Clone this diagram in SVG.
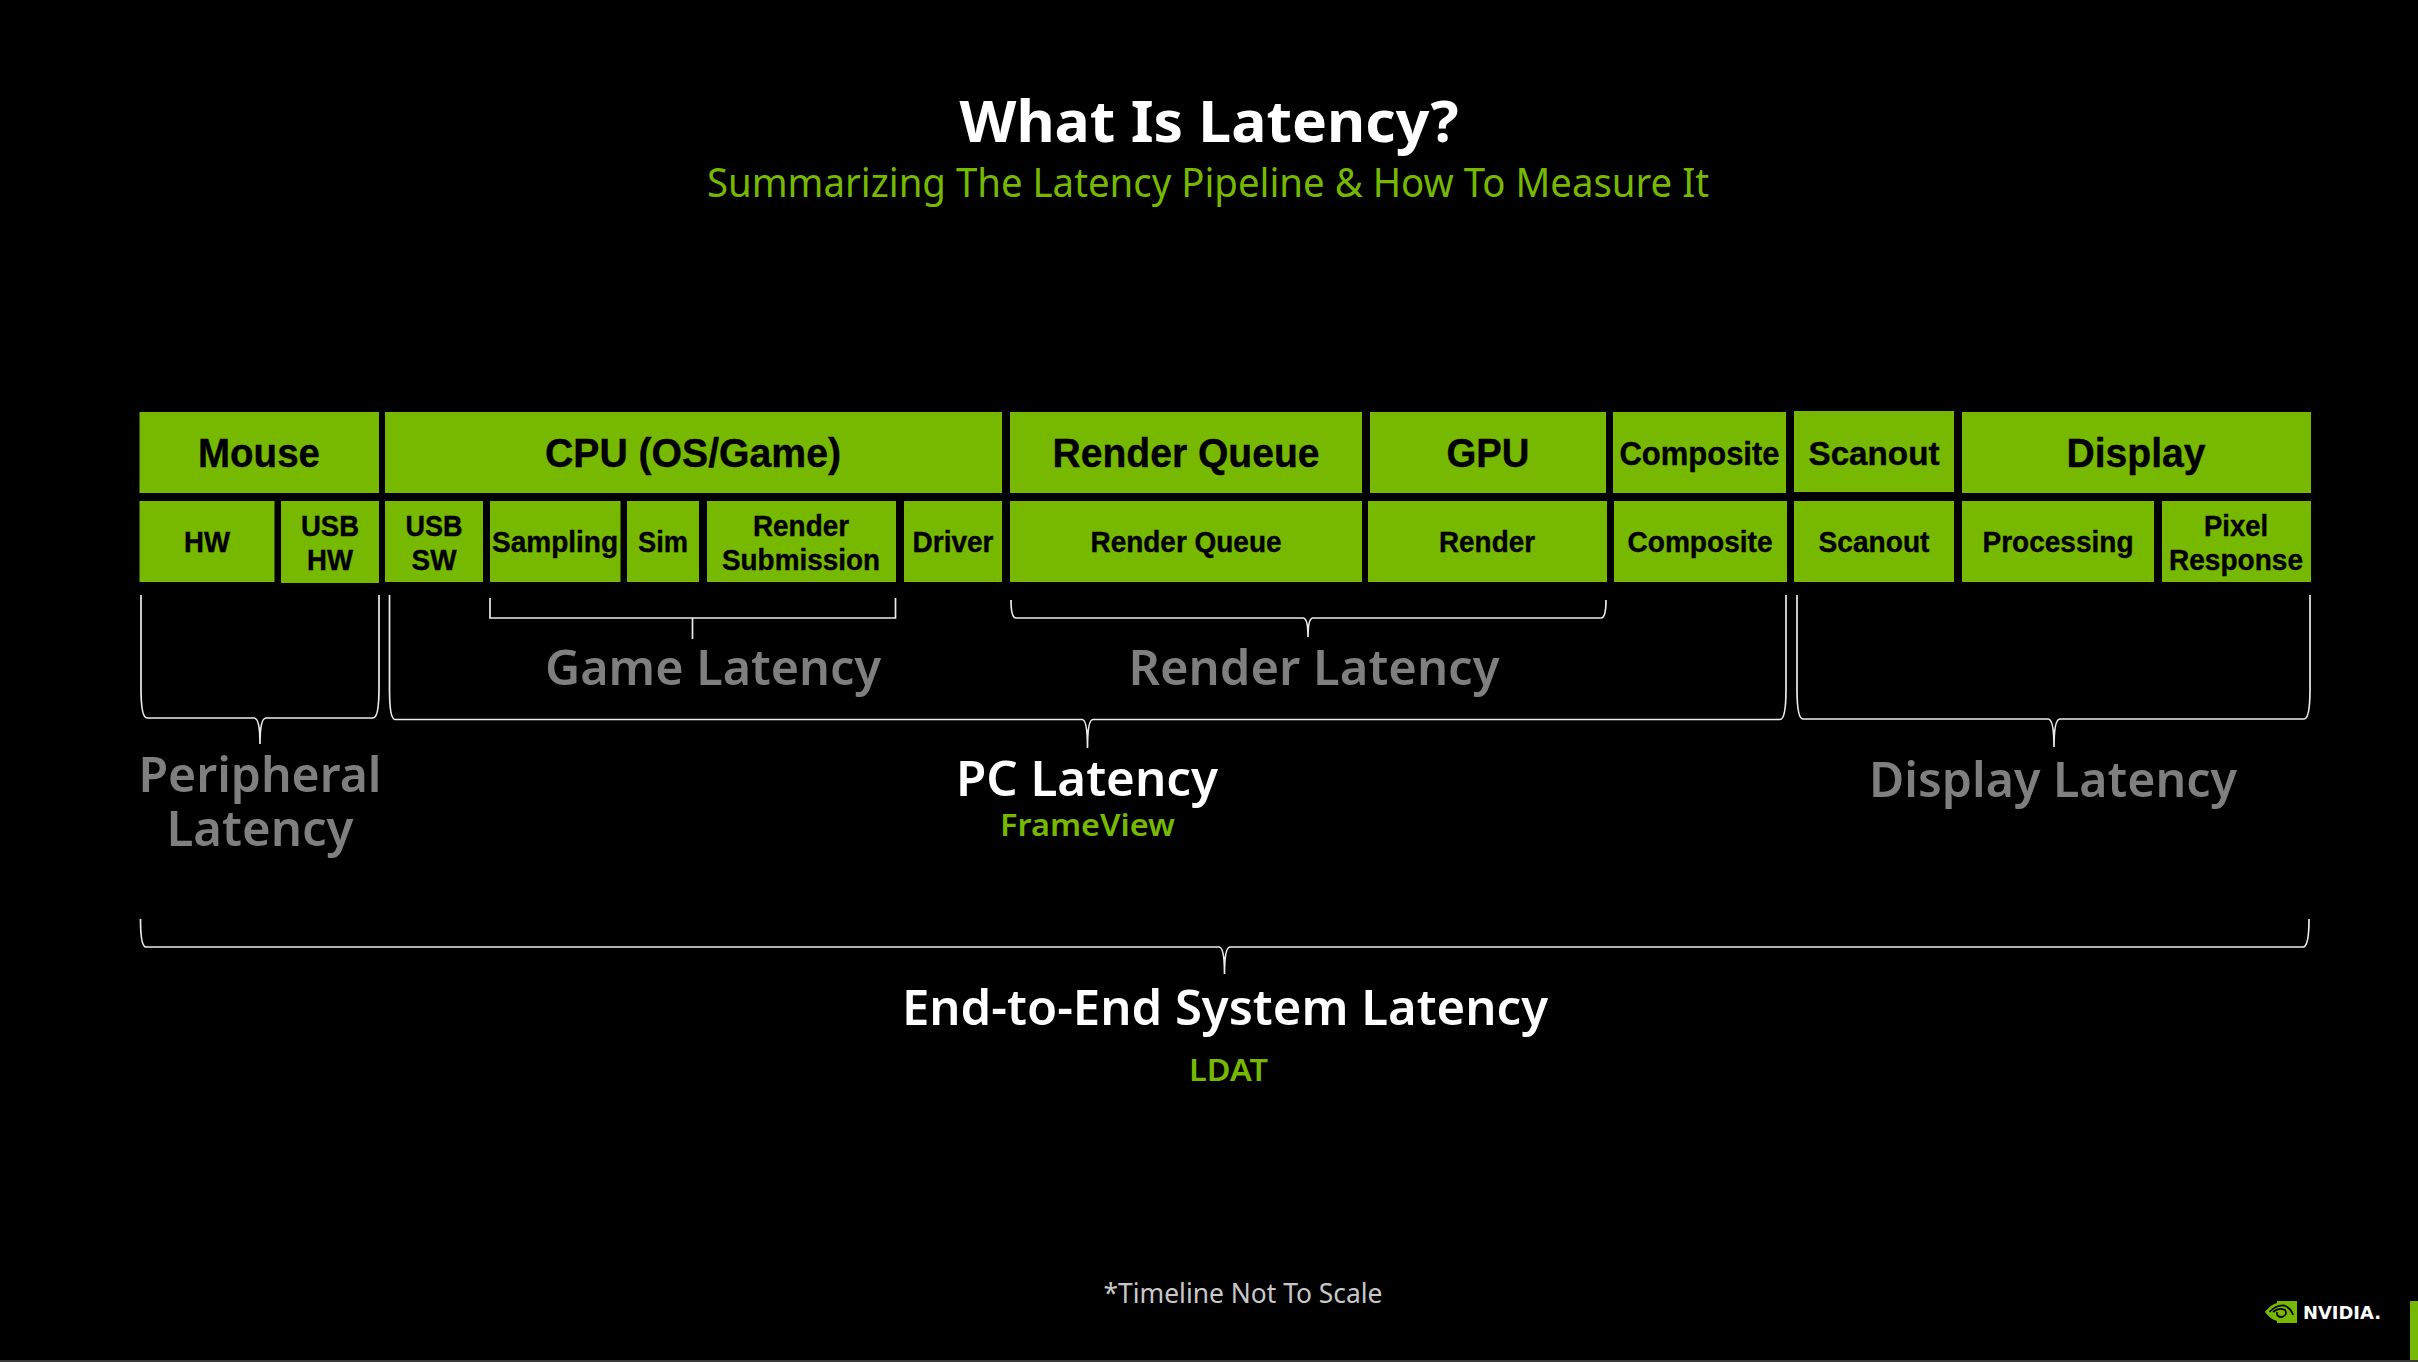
<svg xmlns="http://www.w3.org/2000/svg" width="2418" height="1362" viewBox="0 0 2418 1362">
<style>
.b{fill:#76b900}
.t{font-family:"Liberation Sans",Arial,sans-serif;font-weight:700;fill:#000;text-anchor:middle;stroke:#000;stroke-width:.4}
.l{font-size:40px}.m{font-size:33px}.s{font-size:29px}
.h{font-family:"Noto Sans","DejaVu Sans",sans-serif;text-anchor:middle;font-weight:600}
.g{fill:#7f7f7f;font-size:49px}.w{fill:#fff;font-size:49px}.v{fill:#76b900;font-size:31px}
.c{fill:none;stroke:#ececec;stroke-width:1.7}
</style>
<rect width="2418" height="1362" fill="#000"/>
<rect y="1360" width="2418" height="2" fill="#3a3a3a"/>
<rect x="2410" y="1301" width="8" height="59" fill="#76b900"/>
<g id="title">
<text class="h" x="1209" y="142" font-size="58" style="font-weight:700" fill="#fff" textLength="499" lengthAdjust="spacingAndGlyphs">What Is Latency?</text>
<text class="h" x="1208" y="197" font-size="40" style="font-weight:400" fill="#76b900" textLength="1002" lengthAdjust="spacingAndGlyphs">Summarizing The Latency Pipeline &amp; How To Measure It</text>
</g>
<g id="n-mouse"><rect class="b" x="139.500" y="412" width="239.500" height="81"/><text class="t l" x="259" y="467" textLength="122" lengthAdjust="spacingAndGlyphs">Mouse</text></g>
<g id="n-cpu"><rect class="b" x="385" y="412" width="617" height="81"/><text class="t l" x="693" y="467" textLength="296" lengthAdjust="spacingAndGlyphs">CPU (OS/Game)</text></g>
<g id="n-rq"><rect class="b" x="1010" y="412" width="352" height="81"/><text class="t l" x="1186" y="467" textLength="267" lengthAdjust="spacingAndGlyphs">Render Queue</text></g>
<g id="n-gpu"><rect class="b" x="1370" y="412" width="236" height="81"/><text class="t l" x="1488" y="467" textLength="83" lengthAdjust="spacingAndGlyphs">GPU</text></g>
<g id="n-comp"><rect class="b" x="1613" y="412" width="173" height="81"/><text class="t m" x="1699.500" y="465" textLength="160" lengthAdjust="spacingAndGlyphs">Composite</text></g>
<g id="n-scan"><rect class="b" x="1794" y="411" width="160" height="81"/><text class="t m" x="1874" y="465" textLength="131" lengthAdjust="spacingAndGlyphs">Scanout</text></g>
<g id="n-disp"><rect class="b" x="1962" y="412" width="349" height="81"/><text class="t l" x="2136" y="467" textLength="139" lengthAdjust="spacingAndGlyphs">Display</text></g>
<g id="s-hw"><rect class="b" x="139.500" y="501" width="135" height="81"/><text class="t s" x="207" y="552" textLength="46" lengthAdjust="spacingAndGlyphs">HW</text></g>
<g id="s-usbhw"><rect class="b" x="281" y="501" width="98" height="82"/><text class="t s" x="330" y="536" textLength="58" lengthAdjust="spacingAndGlyphs">USB</text><text class="t s" x="330" y="570" textLength="46" lengthAdjust="spacingAndGlyphs">HW</text></g>
<g id="s-usbsw"><rect class="b" x="385" y="501" width="98" height="81"/><text class="t s" x="434" y="536" textLength="57" lengthAdjust="spacingAndGlyphs">USB</text><text class="t s" x="434" y="570" textLength="45" lengthAdjust="spacingAndGlyphs">SW</text></g>
<g id="s-samp"><rect class="b" x="490" y="501" width="130.500" height="81"/><text class="t s" x="555" y="552" textLength="126" lengthAdjust="spacingAndGlyphs">Sampling</text></g>
<g id="s-sim"><rect class="b" x="627" y="501" width="72" height="81"/><text class="t s" x="663" y="552" textLength="50" lengthAdjust="spacingAndGlyphs">Sim</text></g>
<g id="s-rs"><rect class="b" x="707" y="501" width="189" height="81"/><text class="t s" x="801" y="536" textLength="96" lengthAdjust="spacingAndGlyphs">Render</text><text class="t s" x="801" y="570" textLength="158" lengthAdjust="spacingAndGlyphs">Submission</text></g>
<g id="s-drv"><rect class="b" x="904" y="501" width="98" height="81"/><text class="t s" x="953" y="552" textLength="81" lengthAdjust="spacingAndGlyphs">Driver</text></g>
<g id="s-rq"><rect class="b" x="1010" y="501" width="352" height="81"/><text class="t s" x="1186" y="552" textLength="191" lengthAdjust="spacingAndGlyphs">Render Queue</text></g>
<g id="s-r"><rect class="b" x="1368" y="501" width="239" height="81"/><text class="t s" x="1487" y="552" textLength="96" lengthAdjust="spacingAndGlyphs">Render</text></g>
<g id="s-comp"><rect class="b" x="1614" y="501" width="173" height="81"/><text class="t s" x="1700" y="552" textLength="145" lengthAdjust="spacingAndGlyphs">Composite</text></g>
<g id="s-scan"><rect class="b" x="1794" y="501" width="160" height="81"/><text class="t s" x="1874" y="552" textLength="111" lengthAdjust="spacingAndGlyphs">Scanout</text></g>
<g id="s-proc"><rect class="b" x="1962" y="501" width="192" height="81"/><text class="t s" x="2058" y="552" textLength="151" lengthAdjust="spacingAndGlyphs">Processing</text></g>
<g id="s-pix"><rect class="b" x="2162" y="501" width="149" height="81"/><text class="t s" x="2236" y="536" textLength="64" lengthAdjust="spacingAndGlyphs">Pixel</text><text class="t s" x="2236" y="570" textLength="134" lengthAdjust="spacingAndGlyphs">Response</text></g>
<g id="connectors">
<path class="c" d="M141 595V688Q141 718 147 718H254Q260 718 260 744Q260 718 266 718H373Q379 718 379 688V595"/>
<path class="c" d="M389.500 595V689Q389.500 719.500 395 719.500H1082Q1087.500 719.500 1087.500 748Q1087.500 719.500 1093 719.500H1780Q1786 719.500 1786 689V595"/>
<path class="c" d="M1797 595V689Q1797 719 1803 719H2048Q2054 719 2054 747Q2054 719 2060 719H2304Q2310 719 2310 689V595"/>
<path class="c" d="M490 598V618H895.500V598M692.500 618V639"/>
<path class="c" d="M1011 600Q1011 618 1016 618H1303Q1308 618 1308 637Q1308 618 1313 618H1601Q1606 618 1606 600"/>
<path class="c" d="M140.500 919Q140.500 947 146 947H1219Q1224.500 947 1224.500 974Q1224.500 947 1230 947H2303Q2309 947 2309 919"/>
</g>
<g id="labels">
<text class="h g" x="713" y="685" textLength="336" lengthAdjust="spacingAndGlyphs">Game Latency</text>
<text class="h g" x="1314" y="685" textLength="371" lengthAdjust="spacingAndGlyphs">Render Latency</text>
<text class="h g" x="260" y="792" textLength="243" lengthAdjust="spacingAndGlyphs">Peripheral</text>
<text class="h g" x="260" y="846" textLength="187" lengthAdjust="spacingAndGlyphs">Latency</text>
<text class="h w" x="1087" y="796" textLength="262" lengthAdjust="spacingAndGlyphs">PC Latency</text>
<text class="h v" x="1087.500" y="836" textLength="175" lengthAdjust="spacingAndGlyphs">FrameView</text>
<text class="h g" x="2053" y="797" textLength="368" lengthAdjust="spacingAndGlyphs">Display Latency</text>
<text class="h w" x="1225" y="1025" textLength="646" lengthAdjust="spacingAndGlyphs">End-to-End System Latency</text>
<text class="h v" x="1228.500" y="1081" textLength="79" lengthAdjust="spacingAndGlyphs">LDAT</text>
<text class="h" x="1243" y="1303" font-size="28" style="font-weight:400" fill="#c8c8c8" textLength="279" lengthAdjust="spacingAndGlyphs">*Timeline Not To Scale</text>
</g>
<g id="logo">
<path fill="#76b900" d="M2277 1301H2297V1323H2277V1321Q2270 1319 2265 1312Q2270 1305 2277 1303Z"/>
<path fill="none" stroke="#000" stroke-width="1.800" d="M2269.500 1312Q2276 1305 2284 1305.500Q2291 1308 2293 1315M2273 1312Q2279 1307 2285 1310Q2288 1315 2282 1317Q2276 1317 2277 1312"/>
<text x="2303" y="1319" font-family="DejaVu Sans,sans-serif" font-weight="700" font-size="18" fill="#fff" textLength="78" lengthAdjust="spacingAndGlyphs">NVIDIA.</text>
</g>
</svg>
